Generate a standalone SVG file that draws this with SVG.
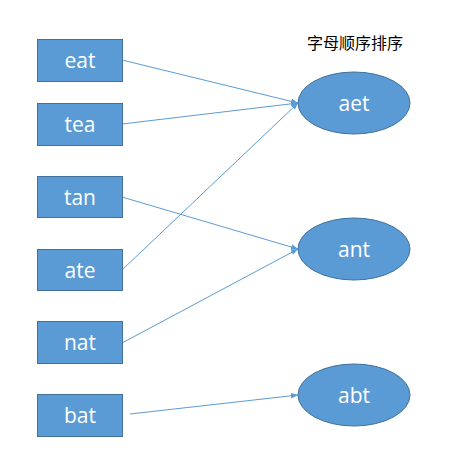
<svg xmlns="http://www.w3.org/2000/svg" width="463" height="472" viewBox="0 0 463 472">
<style>
.box{fill:#5B9BD5;stroke:#41719C;stroke-width:1}
.lbl{fill:#fff;font-family:"Open Sans","Noto Sans",sans-serif;font-size:21px;text-anchor:middle;dominant-baseline:central}
.con{stroke:#5B9BD5;stroke-width:1;fill:none;marker-end:url(#arr)}
.title{font-family:"Noto Sans CJK SC",sans-serif;font-size:16px;fill:#000;text-anchor:middle}
</style>
<defs>
<marker id="arr" viewBox="0 0 10 10" refX="10" refY="5" markerWidth="7" markerHeight="7" orient="auto" markerUnits="userSpaceOnUse">
<path d="M0,1 L10,5 L0,9 z" fill="#5B9BD5"/>
</marker>
</defs>
<rect width="463" height="472" fill="#fff"/>
<text class="title" x="355" y="49">字母顺序排序</text>
<g id="connectors">
<line class="con" x1="122" y1="60" x2="298" y2="103"/>
<line class="con" x1="122" y1="124" x2="298" y2="103"/>
<line class="con" x1="122" y1="197" x2="298" y2="249"/>
<line class="con" x1="122" y1="270" x2="298" y2="103"/>
<line class="con" x1="122" y1="343" x2="298" y2="249"/>
<line class="con" x1="130" y1="414" x2="298" y2="395"/>
</g>
<g id="eat"><rect class="box" x="37.5" y="39.5" width="85" height="42"/><text class="lbl" x="80" y="60">eat</text></g>
<g id="tea"><rect class="box" x="37.5" y="103.5" width="85" height="42"/><text class="lbl" x="80" y="124">tea</text></g>
<g id="tan"><rect class="box" x="37.5" y="176.5" width="85" height="41"/><text class="lbl" x="80" y="197">tan</text></g>
<g id="ate"><rect class="box" x="37.5" y="249.5" width="85" height="41"/><text class="lbl" x="80" y="270">ate</text></g>
<g id="nat"><rect class="box" x="37.5" y="321.5" width="85" height="42"/><text class="lbl" x="80" y="342">nat</text></g>
<g id="bat"><rect class="box" x="37.5" y="394.5" width="85" height="42"/><text class="lbl" x="80" y="415">bat</text></g>
<g id="aet"><ellipse class="box" cx="354" cy="103" rx="56" ry="31"/><text class="lbl" x="354" y="103">aet</text></g>
<g id="ant"><ellipse class="box" cx="354" cy="249" rx="56" ry="31"/><text class="lbl" x="354" y="249">ant</text></g>
<g id="abt"><ellipse class="box" cx="354" cy="395" rx="56" ry="31"/><text class="lbl" x="354" y="395">abt</text></g>
</svg>
